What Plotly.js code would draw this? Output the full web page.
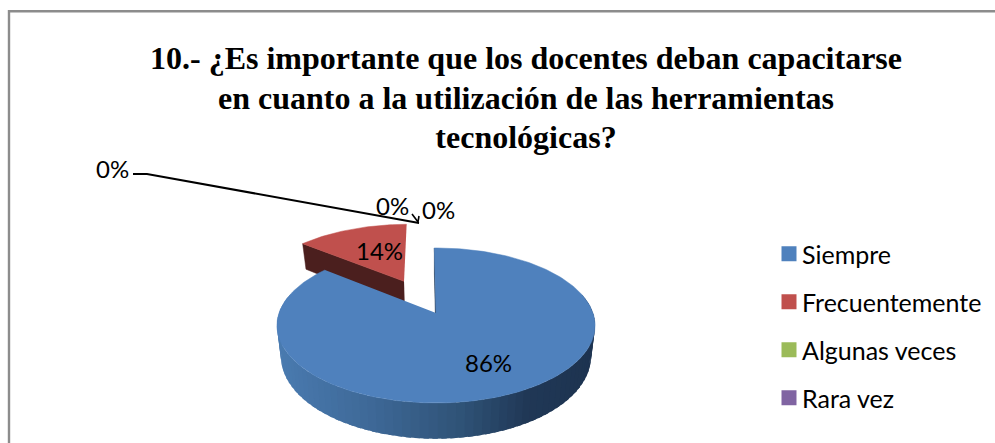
<!DOCTYPE html>
<html>
<head>
<meta charset="utf-8">
<script src="https://cdn.plot.ly/plotly-3.0.1.min.js"></script>
<style>html,body{margin:0;padding:0;background:#fff}#chart{width:995px;height:443px}</style>
</head>
<body>
<div id="chart"></div>
<script>
// ---- data ----
const categories = ['Siempre', 'Frecuentemente', 'Algunas veces', 'Rara vez'];
const values = [86, 14, 0, 0];
const colors = ['#4f81bd', '#c0504d', '#9bbb59', '#8064a2'];
const zeroLabels = ['0%', '0%', '0%'];
const titleLines = ['10.- ¿Es importante que los docentes deban capacitarse',
                    'en cuanto a la utilización de las herramientas', 'tecnológicas?'];

// ---- pie projection (perspective view of the unit disk, in page pixels) ----
const X0 = 436, Y0 = 313, R = 157, K = 75.5, P = 0.161, DEPTH = 30, BASE_SCALE = 0.975;
const START = -0.7, EXPLODE = 0.5;
const rad = d => d * Math.PI / 180;
function project(u, v, low) {
  const w = 1 - P * v;
  let x = X0 + R * u / w, y = Y0 + K * v / w;
  if (low) { x = X0 + (x - X0) * BASE_SCALE; y += DEPTH / w; }
  return [x, y];
}
function disk(angle, off, r) {
  const a = rad(angle);
  return [off[0] + r * Math.sin(a), off[1] - r * Math.cos(a)];
}
function poly(points, color, width) {
  return {type: 'scatter', mode: 'lines', x: points.map(p => p[0]), y: points.map(p => p[1]),
    fill: 'toself', fillcolor: color, line: {color: color, width: width || 0},
    hoverinfo: 'skip', showlegend: false};
}
function mix(stops, t) {
  for (let i = 1; i < stops.length; i++) {
    if (t <= stops[i][0]) {
      const a = stops[i - 1], b = stops[i], f = (t - a[0]) / (b[0] - a[0]);
      return 'rgb(' + [1, 2, 3].map(k => Math.round(a[k] + (b[k] - a[k]) * f)).join(',') + ')';
    }
  }
  const l = stops[stops.length - 1];
  return 'rgb(' + l[1] + ',' + l[2] + ',' + l[3] + ')';
}
const sideStops = [[0, 74, 123, 176], [0.3, 62, 105, 152], [0.6, 47, 82, 118], [0.8, 32, 56, 86], [1, 29, 51, 80]];

const total = values.reduce((a, b) => a + b, 0);
const traces = [];

const blueSweep = values[0] / total * 360;
const redSweep = values[1] / total * 360;
const blueStart = START, blueEnd = START + blueSweep;
const redStart = blueEnd, redEnd = redStart + redSweep;
const redMid = rad((redStart + redEnd) / 2);
const redOff = [EXPLODE * Math.sin(redMid), -EXPLODE * Math.cos(redMid)];

// red: cut face, then top
const rc = disk(redStart, redOff, 1);
traces.push(poly([project(redOff[0], redOff[1]), project(rc[0], rc[1]), project(rc[0], rc[1], true),
                  project(redOff[0], redOff[1], true)], '#4b1f1e', 0.5));
const redTop = [project(redOff[0], redOff[1])];
for (let i = 0; i <= 40; i++) {
  const d = disk(redStart + (redEnd - redStart) * i / 40, redOff, 1);
  redTop.push(project(d[0], d[1]));
}
traces.push(poly(redTop, colors[1], 0.5));

// blue: cut face, outer wall strips (overlapping, so no seams), then top
const o = [0, 0];
const b0 = disk(blueStart, o, 1);
traces.push(poly([project(0, 0), project(b0[0], b0[1]), project(b0[0], b0[1], true), project(0, 0, true)], '#1f3550', 0.5));
const STRIPS = 110;
const stripIdx = [];
for (let i = 0; i < STRIPS; i++) {
  const a = blueStart + blueSweep * (i + 0.5) / STRIPS;
  if (Math.cos(rad(a)) <= 0.25) stripIdx.push(i);
}
stripIdx.forEach(i => {
  const a1 = blueStart + blueSweep * i / STRIPS, a2 = blueStart + blueSweep * (i + 1.6) / STRIPS;
  const p1 = disk(a1, o, 1), p2 = disk(a2, o, 1);
  const q = project(p1[0], p1[1]);
  const t = (q[0] - 277) / (595 - 277);
  traces.push(poly([q, project(p2[0], p2[1]), project(p2[0], p2[1], true), project(p1[0], p1[1], true)],
                   mix(sideStops, t), 0));
});
const blueTop = [project(0, 0)];
for (let i = 0; i <= 240; i++) {
  const d = disk(blueStart + blueSweep * i / 240, o, 1);
  blueTop.push(project(d[0], d[1]));
}
traces.push(poly(blueTop, colors[0], 0.5));

// legend entries
categories.forEach((c, i) => traces.push({
  type: 'scatter', mode: 'markers', x: [null], y: [null], name: c, legendgroup: c,
  marker: {symbol: 'square', size: 15, color: colors[i]}, hoverinfo: 'skip'
}));

const labelFont = {family: 'Lato, Carlito, sans-serif', size: 24, color: '#000'};
const pct = v => Math.round(v / total * 100) + '%';
const note = (text, x, y) => ({text, x, y, xref: 'x', yref: 'y', showarrow: false, font: labelFont, xanchor: 'center', yanchor: 'middle'});
const annotations = [
  note(pct(values[0]), 488, 362),
  note(pct(values[1]), 379, 250),
  note(zeroLabels[0], 112, 168),
  note(zeroLabels[1], 392, 205),
  note(zeroLabels[2], 438, 209)
];

const layout = {
  width: 995, height: 443,
  margin: {l: 0, r: 0, t: 0, b: 0},
  paper_bgcolor: '#fff', plot_bgcolor: '#fff',
  showlegend: true,
  title: {text: '<b>' + titleLines.join('<br>') + '</b>', x: 526 / 995, xanchor: 'center', xref: 'paper',
          y: 1 - 69 / 443, yanchor: 'top', yref: 'paper',
          font: {family: '"Liberation Serif", serif', size: 32, color: '#000'}},
  xaxis: {range: [0, 995], visible: false, fixedrange: true},
  yaxis: {range: [443, 0], visible: false, fixedrange: true},
  legend: {x: 768 / 995, y: 1 - 231 / 443, xanchor: 'left', yanchor: 'top', bgcolor: 'rgba(0,0,0,0)',
           font: {family: 'Lato, Carlito, sans-serif', size: 25, color: '#000'},
           tracegroupgap: 12.5, indentation: -6, itemclick: false, itemdoubleclick: false},
  annotations: annotations,
  shapes: [
    {type: 'path', xref: 'x', yref: 'y', path: 'M9,445 L9,11.3 L997,11.3', line: {color: '#8c8c8c', width: 2.4}},
    {type: 'path', xref: 'x', yref: 'y', path: 'M133,174 L147,174 L419,223', line: {color: '#000', width: 2}},
    {type: 'path', xref: 'x', yref: 'y', path: 'M412,214 L418,222 L419,216', line: {color: '#000', width: 1.6}}
  ]
};

// Word-chart details Plotly has no option for: title line spacing and legend swatch gap
function refine() {
  const gd = document.getElementById('chart');
  gd.querySelectorAll('.gtitle tspan.line').forEach((t, i) => t.setAttribute('dy', (i * 39.5 / 32) + 'em'));
  gd.querySelectorAll('.legend .legendsymbols').forEach(s => s.setAttribute('transform', 'translate(7,0)'));
}
Plotly.newPlot('chart', traces, layout, {displayModeBar: false}).then(gd => {
  refine();
  gd.on('plotly_afterplot', refine);
});
</script>
</body>
</html>
